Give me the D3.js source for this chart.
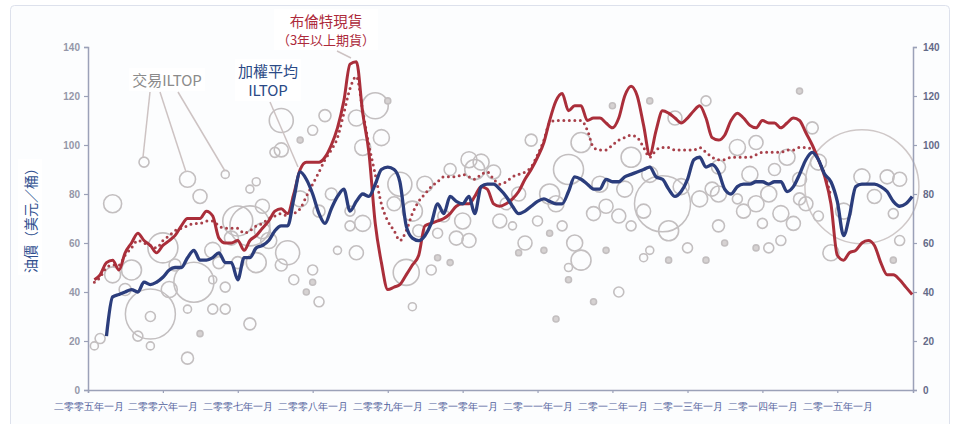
<!DOCTYPE html>
<html>
<head>
<meta charset="utf-8">
<script src="https://cdn.jsdelivr.net/npm/d3@7"></script>
<style>
  body { margin: 0; background: #fff; }
  svg { font-family: "Noto Sans CJK TC", "Noto Sans", sans-serif; }
</style>
</head>
<body>
<div id="chart"></div>
<script>
// Brent spot, monthly from Feb 2005
const brentStart = "2005-02";
const brentSpot = [
  45, 47, 52, 53, 49, 56, 60, 64, 61, 59, 56,
  59, 61, 63, 67, 70, 70, 70, 73, 71, 62, 60, 60,
  61, 57, 61, 63, 66, 69, 73, 74, 72, 80, 90, 93,
  93, 93, 95, 100, 107, 118, 133, 134, 113, 97, 68, 52,
  41, 42, 43, 47, 51, 55, 67, 68, 69, 70, 72, 75,
  76, 76, 79, 83, 82, 76, 75, 76, 78, 81, 86, 90,
  95, 101, 110, 118, 121, 114, 116, 116, 110, 111, 111, 109,
  107, 111, 120, 124, 120, 108, 96, 106, 114, 113, 111, 109,
  111, 114, 116, 111, 103, 102, 104, 110, 113, 111, 108, 107,
  110, 109, 109, 107, 109, 111, 110, 105, 100, 94, 87, 76,
  55, 53, 56, 57, 60, 61, 59, 52, 47, 47, 45, 42,
  39
];

// 3-year+ forward, monthly from Feb 2005
const forwardStart = "2005-02";
const brentForward = [
  44, 46, 50, 51, 51, 55, 58, 61, 60, 59, 58,
  61, 63, 65, 66, 67, 68, 68, 69, 69, 67, 66, 66,
  66, 64, 65, 67, 68, 70, 71, 72, 71, 72, 74, 79,
  84, 89, 94, 98, 103, 113, 123, 128, 114, 100, 88, 76,
  69, 65, 61, 65, 72, 77, 80, 83, 85, 87, 87, 87,
  88, 87, 86, 88, 89, 86, 84, 85, 87, 88, 89, 91,
  96, 102, 109, 110, 110, 110, 110, 110, 106, 99, 98, 98,
  100, 102, 103, 104, 103, 99, 95, 98, 99, 99, 98, 98,
  98, 98, 99, 97, 95, 94, 94, 95, 95, 95, 95, 96,
  97, 97, 97, 97, 98, 98, 99, 99, 98, 94, 88, 79
];

// weighted average ILTOP, monthly from Apr 2005
const iltopStart = "2005-04";
const iltopAverage = [
  22, 38, 39, 40, 41, 40, 44, 43, 44,
  46, 49, 50, 50, 54, 57, 53, 53, 54, 56, 52, 52,
  45, 54, 54, 58, 59, 61, 65, 67, 67, 78, 89, 86,
  80, 72, 68, 74, 79, 82, 73, 77, 80, 79, 84, 90,
  91, 90, 85, 67, 62, 61, 63, 68, 76, 72, 79, 77,
  76, 79, 72, 83, 84, 84, 82, 79, 75, 72, 73, 75,
  77, 78, 77, 76, 76, 81, 87, 86, 84, 82, 82, 86,
  85, 85, 87, 88, 89, 90, 91, 87, 86, 82, 79, 81,
  86, 94, 95, 91, 92, 89, 82, 80, 83, 84, 84, 85,
  85, 84, 85, 85, 81, 83, 88, 94, 97, 94, 88, 85,
  77, 63, 71, 83, 84, 84, 84, 83, 81, 77, 75, 76,
  79
];

// traded ILTOP deals: [month, price, volume]
const trades = [
  ["2005-10", 93, 25], ["2006-05", 86, 64], ["2006-11", 88, 16], ["2005-05", 76, 81],
  ["2006-07", 79, 49], ["2007-03", 82, 16], ["2007-04", 85, 16], ["2007-05", 75, 49],
  ["2007-07", 97, 25], ["2007-01", 69, 225], ["2007-04", 52, 100], ["2006-01", 58, 225],
  ["2005-11", 31, 625], ["2006-06", 44, 400], ["2005-08", 49, 100], ["2005-11", 30, 25],
  ["2006-05", 33, 16], ["2006-09", 33, 25], ["2006-11", 33, 25], ["2007-03", 27, 36],
  ["2006-07", 23, 9], ["2005-11", 18, 16], ["2006-05", 13, 36], ["2005-03", 21, 25],
  ["2005-09", 22, 25], ["2006-09", 45, 16], ["2006-11", 42, 25], ["2006-12", 62, 49],
  ["2007-03", 67, 400], ["2005-05", 47, 64], ["2005-07", 41, 36], ["2006-02", 41, 64],
  ["2006-10", 52, 36], ["2005-02", 18, 16], ["2006-03", 51, 36], ["2006-09", 57, 64],
  ["2007-01", 52, 36], ["2007-06", 61, 64], ["2007-08", 51, 36], ["2007-05", 65, 64],
  ["2007-08", 110, 144], ["2007-11", 102, 9], ["2007-08", 98, 49], ["2008-03", 112, 36],
  ["2008-08", 111, 64], ["2008-11", 116, 169], ["2009-01", 118, 9], ["2008-12", 103, 64],
  ["2008-09", 99, 64], ["2008-01", 106, 25], ["2008-07", 67, 25], ["2008-09", 68, 64],
  ["2008-08", 56, 49], ["2008-05", 57, 16], ["2008-01", 49, 25], ["2007-10", 45, 25],
  ["2008-01", 44, 9], ["2007-12", 40, 9], ["2008-02", 36, 25], ["2009-05", 34, 16],
  ["2007-09", 56, 144], ["2009-05", 73, 100], ["2009-04", 48, 169], ["2009-07", 84, 64],
  ["2009-11", 90, 36], ["2010-02", 94, 64], ["2010-03", 90, 100], ["2009-12", 62, 49],
  ["2010-02", 61, 49], ["2009-09", 54, 9], ["2009-11", 52, 9], ["2009-08", 49, 25],
  ["2009-09", 64, 25], ["2008-07", 73, 25], ["2009-03", 84, 144], ["2008-04", 80, 36],
  ["2009-10", 71, 36], ["2010-01", 69, 64], ["2009-06", 65, 36], ["2009-02", 76, 49],
  ["2007-11", 78, 64], ["2008-02", 73, 36],
  ["2010-12", 102, 36], ["2010-04", 93, 64], ["2010-06", 89, 49], ["2010-07", 69, 49],
  ["2010-11", 60, 49], ["2011-07", 60, 64], ["2011-08", 53, 100], ["2011-06", 50, 16],
  ["2011-06", 45, 9], ["2012-02", 40, 25], ["2011-10", 36, 9], ["2011-04", 29, 9],
  ["2011-02", 57, 9], ["2010-10", 56, 9], ["2011-10", 72, 49], ["2011-12", 57, 9],
  ["2012-06", 54, 16], ["2012-07", 57, 16], ["2012-10", 53, 9], ["2013-01", 58, 25],
  ["2012-09", 76, 784], ["2011-06", 90, 225], ["2011-03", 80, 100], ["2010-10", 80, 49],
  ["2012-02", 71, 49], ["2012-04", 67, 25], ["2012-10", 65, 100], ["2012-01", 116, 9],
  ["2012-07", 118, 9], ["2012-11", 111, 49], ["2012-04", 95, 100], ["2011-08", 101, 100],
  ["2012-12", 83, 64], ["2012-06", 73, 49], ["2011-12", 75, 49], ["2011-05", 67, 25],
  ["2011-01", 69, 25], ["2010-09", 67, 16], ["2011-03", 64, 9], ["2011-11", 84, 64],
  ["2012-03", 82, 64], ["2012-07", 88, 64], ["2013-03", 78, 64], ["2010-08", 76, 36],
  ["2011-04", 76, 64],
  ["2015-05", 83, 3249], ["2014-09", 107, 36], ["2014-07", 122, 9], ["2013-04", 118, 25],
  ["2013-09", 99, 64], ["2013-06", 91, 49], ["2013-06", 80, 64], ["2013-10", 73, 49],
  ["2013-12", 76, 64], ["2014-02", 80, 64], ["2014-04", 72, 64], ["2014-06", 68, 49],
  ["2014-01", 68, 25], ["2014-04", 61, 25], ["2014-02", 58, 25], ["2013-12", 58, 9],
  ["2013-07", 60, 9], ["2013-04", 53, 9], ["2014-12", 56, 64], ["2014-10", 93, 64],
  ["2015-05", 87, 64], ["2015-07", 79, 49], ["2015-09", 87, 49], ["2015-11", 86, 49],
  ["2015-10", 72, 25], ["2015-11", 61, 25], ["2015-10", 53, 9], ["2014-08", 76, 49],
  ["2014-10", 71, 25], ["2014-05", 95, 64], ["2013-12", 101, 49], ["2013-05", 82, 49],
  ["2013-09", 78, 25], ["2013-11", 88, 64], ["2014-03", 90, 36], ["2014-07", 86, 49],
  ["2013-06", 67, 36], ["2014-07", 78, 36], ["2015-02", 73, 64]
];

const yTicks = [0, 20, 40, 60, 80, 100, 120, 140];
const xTickYears = [2005, 2006, 2007, 2008, 2009, 2010, 2011, 2012, 2013, 2014, 2015];
const xTickLabels = ["二零零五年一月", "二零零六年一月", "二零零七年一月", "二零零八年一月",
  "二零零九年一月", "二零一零年一月", "二零一一年一月", "二零一二年一月",
  "二零一三年一月", "二零一四年一月", "二零一五年一月"];

const W = 954, H = 424;
const parseMonth = d3.timeParse("%Y-%m");

const svg = d3.select("#chart").append("svg")
  .attr("width", W).attr("height", H);

// outer frame
svg.append("rect")
  .attr("x", 10.5).attr("y", 5.5).attr("width", 939).attr("height", 430)
  .attr("rx", 4)
  .attr("fill", "#fcfdfe").attr("stroke", "#dde1ec");

const x = d3.scaleTime()
  .domain([new Date(2005, 0, 1), new Date(2016, 0, 5)])
  .range([88, 913]);
const y = d3.scaleLinear().domain([0, 140]).range([390, 47]);
const r = d3.scaleSqrt().domain([0, 100]).range([0, 10]);

function toPoints(start, values) {
  const s = parseMonth(start);
  return values.map((v, i) => ({ date: d3.timeMonth.offset(s, i), v: v }));
}

// bubbles
svg.append("g").selectAll("circle")
  .data(trades)
  .enter().append("circle")
    .attr("cx", d => x(parseMonth(d[0])))
    .attr("cy", d => y(d[1]))
    .attr("r", d => r(d[2]))
    .attr("fill", d => r(d[2]) <= 3.5 ? "#d6d2d2" : "none")
    .attr("stroke", d => r(d[2]) > 40 ? "#cfc8c8" : "#c3bfc0")
    .attr("stroke-width", d => r(d[2]) > 20 ? 1.5 : 1.6);

// axes
const axisColor = "#9ba1b8";
const left = svg.append("g")
  .attr("transform", "translate(88,0)")
  .call(d3.axisLeft(y).tickValues(yTicks).tickSize(4).tickPadding(4));
const right = svg.append("g")
  .attr("transform", "translate(913,0)")
  .call(d3.axisRight(y).tickValues(yTicks).tickSize(4).tickPadding(6));
const bottom = svg.append("g")
  .attr("transform", "translate(0,390)")
  .call(d3.axisBottom(x)
    .tickValues(xTickYears.map(yr => new Date(yr, 0, 1)))
    .tickFormat((d, i) => xTickLabels[i])
    .tickSize(3).tickPadding(10));

[left, right, bottom].forEach(g => {
  g.select(".domain").attr("stroke", axisColor).attr("stroke-width", 1.5);
  g.selectAll(".tick line").attr("stroke", axisColor).attr("stroke-width", 1.2);
});
left.selectAll("text").attr("font-size", 10).attr("font-weight", "bold")
  .attr("fill", "#9597a8").attr("font-family", "Liberation Sans, sans-serif");
right.selectAll("text").attr("font-size", 10).attr("font-weight", "bold")
  .attr("fill", "#646a88").attr("font-family", "Liberation Sans, sans-serif");
bottom.selectAll("text").attr("font-size", 9.5).attr("fill", "#52619c");

// annotation pointers
const pointerColor = "#cdc3c3";
const pointers = [
  [150, 92, 143, 157], [160, 92, 186, 172], [178, 92, 225, 171],
  [270, 102, 298, 167], [337, 51, 351, 58]
];
svg.append("g").selectAll("line")
  .data(pointers)
  .enter().append("line")
    .attr("x1", d => d[0]).attr("y1", d => d[1])
    .attr("x2", d => d[2]).attr("y2", d => d[3])
    .attr("stroke", pointerColor).attr("stroke-width", 1.5);

// lines
const line = d3.line()
  .x(d => x(d.date)).y(d => y(d.v))
  .curve(d3.curveMonotoneX);

svg.append("path")
  .datum(toPoints(forwardStart, brentForward))
  .attr("d", line)
  .attr("fill", "none")
  .attr("stroke", "#a8404a")
  .attr("stroke-width", 3)
  .attr("stroke-linecap", "round")
  .attr("stroke-dasharray", "0 5.5");

svg.append("path")
  .datum(toPoints(brentStart, brentSpot))
  .attr("d", line)
  .attr("fill", "none")
  .attr("stroke", "#aa2e3a")
  .attr("stroke-width", 3)
  .attr("stroke-linejoin", "round");

svg.append("path")
  .datum(toPoints(iltopStart, iltopAverage))
  .attr("d", line)
  .attr("fill", "none")
  .attr("stroke", "#2b3d7c")
  .attr("stroke-width", 3.3)
  .attr("stroke-linejoin", "round");

// labels with white backgrounds, one text per line
function label(lines, cx, y0, dy, sizes, color) {
  const g = svg.append("g");
  const bg = g.append("rect").attr("fill", "#fff");
  lines.forEach((t, i) => {
    g.append("text")
      .attr("x", cx).attr("y", y0 + i * dy)
      .attr("text-anchor", "middle")
      .attr("font-size", sizes[i])
      .attr("fill", color)
      .text(t);
  });
  const b = g.node().getBBox();
  bg.attr("x", b.x - 3).attr("y", b.y - 1).attr("width", b.width + 6).attr("height", b.height + 2);
}
label(["交易ILTOP"], 167, 86, 0, [15], "#8b8b8b");
label(["加權平均", "ILTOP"], 268, 77, 19, [15, 15], "#2b4a86");
label(["布倫特現貨", "（3年以上期貨）"], 326, 27, 18, [14.5, 13], "#ad2a3b");

// y axis title
const yt = svg.append("g").attr("transform", "translate(31,217) rotate(-90)");
const ytBg = yt.append("rect").attr("fill", "#fff");
const ytText = yt.append("text")
  .attr("text-anchor", "middle")
  .attr("dy", "0.35em")
  .attr("font-size", 14)
  .attr("fill", "#2f4f8f")
  .text("油價（美元／桶）");
const tb = ytText.node().getBBox();
ytBg.attr("x", tb.x - 2).attr("y", tb.y - 2).attr("width", tb.width + 4).attr("height", tb.height + 4);
</script>
</body>
</html>
